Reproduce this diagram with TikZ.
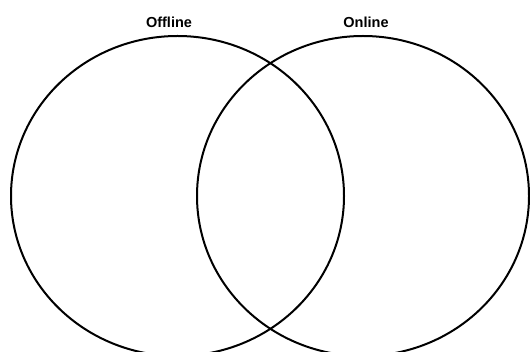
\documentclass[tikz,border=0pt]{standalone}
\usepackage{fontspec}
\setmainfont{Liberation Sans}
\begin{document}
\begin{tikzpicture}[x=1pt,y=-1pt,
  venn/.style={draw=black,line width=2pt},
  lbl/.style={font=\bfseries\fontsize{14.5}{16}\selectfont,anchor=base,inner sep=0pt}]
\useasboundingbox (0,0) rectangle (530,352);
\begin{scope}
\clip (0,0) rectangle (530,352);
\draw[venn] (177.5,196) ellipse [x radius=166.5, y radius=160];
\draw[venn] (363,196) ellipse [x radius=166, y radius=160];
\end{scope}
\node[lbl] (off) at (169,27.7) {Offline};
\node[lbl] (on) at (366,27.7) {Online};
\end{tikzpicture}
\end{document}
